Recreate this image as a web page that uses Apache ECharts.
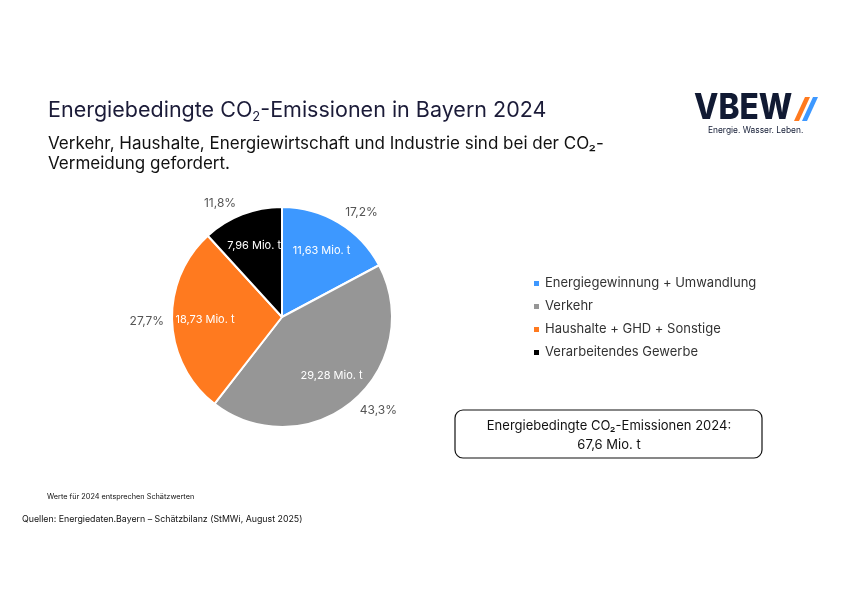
<!DOCTYPE html>
<html>
<head>
<meta charset="utf-8">
<script src="https://cdn.jsdelivr.net/npm/echarts@6/dist/echarts.min.js"></script>
<style>
	html, body { margin: 0; padding: 0; background: #fff; }
	#chart { width: 842px; height: 595px; }
</style>
</head>
<body>
<div id="chart"></div>
<script>
// Emissionen 2024 in Mio. t
var sectors = ['Energiegewinnung + Umwandlung', 'Verkehr', 'Haushalte + GHD + Sonstige', 'Verarbeitendes Gewerbe'];
var emissions = [11.63, 29.28, 18.73, 7.96];
var sectorColors = ['#3d98ff', '#969696', '#ff7a1f', '#000000'];
var totalLabel = '67,6 Mio. t';

var font = 'Inter, "Noto Sans", sans-serif';

function deNumber(v, digits) {
	return v.toFixed(digits).replace('.', ',');
}

var pieData = sectors.map(function (name, i) {
	return { name: name, value: emissions[i], itemStyle: { color: sectorColors[i] } };
});

var plainData = sectors.map(function (name, i) {
	return { name: name, value: emissions[i] };
});

var center = [282, 317];
var pieRadius = 110;

var option = {
	backgroundColor : '#fff',
	animation : false,
	title : {
		text : '{a|Energiebedingte CO}{s|2}{a|-Emissionen in Bayern 2024}',
		left : 43,
		top : 93,
		textStyle : {
			fontWeight : 'normal',
			rich : {
				a : { fontFamily : font, fontSize : 21.5, fontWeight : 'normal', color : '#1b1b38', lineHeight : 26, verticalAlign : 'middle' },
				s : { fontFamily : font, fontSize : 13, fontWeight : 'normal', color : '#1b1b38', lineHeight : 26, verticalAlign : 'bottom' }
			}
		},
		subtext : 'Verkehr, Haushalte, Energiewirtschaft und Industrie sind bei der CO\u2082-\nVermeidung gefordert.',
		itemGap : 12,
		subtextStyle : {
			fontFamily : font,
			fontSize : 17,
			color : '#111',
			lineHeight : 20
		}
	},
	legend : {
		orient : 'vertical',
		left : 527,
		top : 272,
		itemWidth : 7,
		itemHeight : 7,
		itemGap : 10,
		icon : 'rect',
		data : sectors,
		textStyle : {
			fontFamily : font,
			fontSize : 13,
			color : '#333'
		}
	},
	series : [ {
		name : 'CO2-Emissionen',
		type : 'pie',
		center : center,
		radius : [0, pieRadius],
		startAngle : 90,
		clockwise : true,
		itemStyle : { borderColor : '#fff', borderWidth : 2 },
		label : {
			show : true,
			position : 'outside',
			color : '#555',
			fontFamily : font,
			fontSize : 12,
			formatter : function (p) {
				return deNumber(p.percent, 1) + '%';
			}
		},
		labelLine : { show : false, length : 3, length2 : 0 },
		labelLayout : function (params) {
			// lift labels above / below the rim like the outside-end labels
			var r = params.labelRect;
			var dy = (r.y + r.height / 2 - center[1]) / pieRadius * 9;
			return { dy : dy };
		},
		data : pieData
	}, {
		name : 'Mengen',
		type : 'pie',
		silent : true,
		center : center,
		radius : [36, 112],
		startAngle : 90,
		clockwise : true,
		itemStyle : { color : 'transparent' },
		label : {
			show : true,
			position : 'inside',
			color : '#fff',
			fontFamily : font,
			fontSize : 11,
			formatter : function (p) {
				return deNumber(p.value, 2) + ' Mio. t';
			}
		},
		labelLine : { show : false },
		data : plainData
	} ],
	graphic : [ {
		type : 'text',
		x : 694,
		y : 90,
		scaleX : 0.88,
		style : {
			text : 'VBEW',
			fontFamily : font,
			fontSize : 36,
			fontWeight : 800,
			fill : '#111a33'
		}
	}, {
		type : 'polygon',
		shape : { points : [[805, 97], [810, 97], [799, 121], [794, 121]] },
		style : { fill : '#ff7a1f' }
	}, {
		type : 'polygon',
		shape : { points : [[813, 97], [818, 97], [807, 121], [802, 121]] },
		style : { fill : '#3d98ff' }
	}, {
		type : 'text',
		x : 708,
		y : 126,
		style : {
			text : 'Energie. Wasser. Leben.',
			fontFamily : font,
			fontSize : 8.4,
			fill : '#111a33'
		}
	}, {
		type : 'rect',
		shape : { x : 455, y : 410, width : 307, height : 48, r : 8 },
		style : { fill : '#fff', stroke : '#111', lineWidth : 1.2 }
	}, {
		type : 'text',
		x : 609,
		y : 436,
		style : {
			text : 'Energiebedingte CO\u2082-Emissionen 2024:\n' + totalLabel,
			fontFamily : font,
			fontSize : 13,
			lineHeight : 19,
			fill : '#111',
			align : 'center',
			verticalAlign : 'middle'
		}
	}, {
		type : 'text',
		left : 47,
		top : 493,
		style : {
			text : 'Werte f\u00fcr 2024 entsprechen Sch\u00e4tzwerten',
			fontFamily : font,
			fontSize : 7.3,
			fill : '#111'
		}
	}, {
		type : 'text',
		left : 22,
		top : 515,
		style : {
			text : 'Quellen: Energiedaten.Bayern \u2013 Sch\u00e4tzbilanz (StMWi, August 2025)',
			fontFamily : font,
			fontSize : 8.8,
			fill : '#111'
		}
	} ]
};

var myChart = echarts.init(document.getElementById('chart'));
myChart.setOption(option);
</script>
</body>
</html>
